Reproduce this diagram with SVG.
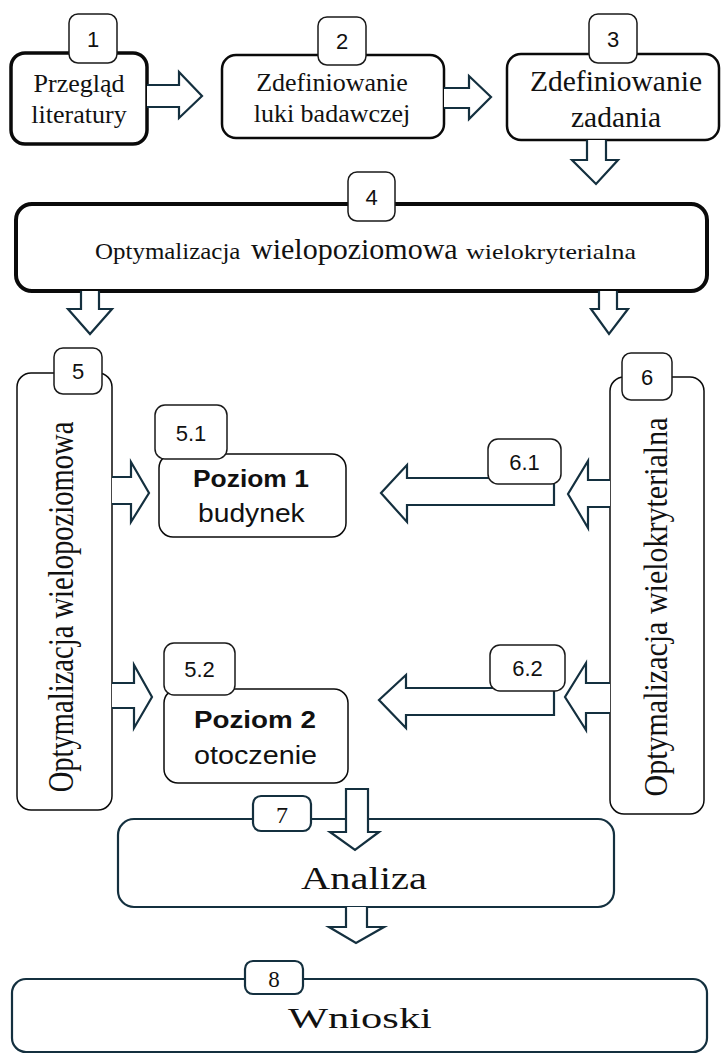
<svg xmlns="http://www.w3.org/2000/svg" width="721" height="1055" viewBox="0 0 721 1055">
<style>
.bk{fill:#fff;stroke:#0a0a0a}
.thin{stroke-width:1.5}
.badge{fill:#fff;stroke:#1a1a1a;stroke-width:1.5}
.nbadge{fill:#fff;stroke:#14303f;stroke-width:2.2}
.nav{fill:#fff;stroke:#14303f;stroke-width:2.2}
.arr{fill:#fff;stroke:#14303f;stroke-width:2.2;stroke-linejoin:miter}
.serif{font-family:"Liberation Serif","Times New Roman",serif;fill:#111}
.sans{font-family:"Liberation Sans",Arial,sans-serif;fill:#111}
.mid{text-anchor:middle}
.bn{font-size:22px}
</style>
<rect x="0" y="0" width="721" height="1055" fill="#fff"/>

<g id="node1">
  <rect class="bk" x="11" y="53" width="136" height="91" rx="14" stroke-width="3.5"/>
  <text class="serif mid" x="79" y="92" font-size="26">Przegląd</text>
  <text class="serif mid" x="79" y="123" font-size="26">literatury</text>
  <rect class="badge" x="69" y="14" width="48" height="49" rx="9"/>
  <text class="sans mid bn" x="93" y="47">1</text>
</g>
<g id="node2">
  <rect class="bk" x="222" y="55" width="222" height="83" rx="14" stroke-width="2.5"/>
  <text class="serif mid" x="332" y="91" font-size="26">Zdefiniowanie</text>
  <text class="serif mid" x="332" y="122" font-size="26">luki badawczej</text>
  <rect class="badge" x="318" y="17" width="48" height="48" rx="9"/>
  <text class="sans mid bn" x="342" y="49">2</text>
</g>
<g id="node3">
  <rect class="bk" x="507" y="54" width="212" height="86" rx="14" stroke-width="2.5"/>
  <text class="serif mid" x="616" y="91" font-size="29.5">Zdefiniowanie</text>
  <text class="serif mid" x="616" y="127" font-size="29.5">zadania</text>
  <rect class="badge" x="589" y="14" width="48" height="49" rx="9"/>
  <text class="sans mid bn" x="613" y="47">3</text>
</g>
<g id="node4">
  <rect class="bk" x="16" y="204" width="691" height="87" rx="16" stroke-width="4"/>
  <text class="serif" transform="translate(95,259) scale(1.085,1)" font-size="23">Optymalizacja</text>
  <text class="serif" transform="translate(251,259)" font-size="30">wielopoziomowa</text>
  <text class="serif" transform="translate(466,259) scale(1.18,1)" font-size="22">wielokryterialna</text>
  <rect class="badge" x="348" y="172" width="47" height="49" rx="9"/>
  <text class="sans mid bn" x="371.5" y="205">4</text>
</g>
<g id="node5">
  <rect class="bk thin" x="17" y="373" width="95" height="437" rx="14"/>
  <text class="serif mid" transform="translate(73,607) rotate(-90) scale(1,1.28)" font-size="28.6">Optymalizacja wielopoziomowa</text>
  <rect class="badge" x="54" y="348" width="48" height="46" rx="9"/>
  <text class="sans mid bn" x="78" y="379">5</text>
</g>
<g id="node6">
  <rect class="bk thin" x="610" y="377" width="94" height="437" rx="14"/>
  <text class="serif mid" transform="translate(667,607) rotate(-90) scale(1,1.12)" font-size="30">Optymalizacja wielokryterialna</text>
  <rect class="badge" x="622" y="353" width="50" height="47" rx="9"/>
  <text class="sans mid bn" x="647" y="385">6</text>
</g>
<g id="node5-1">
  <rect class="bk thin" x="159" y="454" width="187" height="83" rx="14"/>
  <text class="sans" transform="translate(193,487) scale(1.1,1)" font-size="24" font-weight="bold">Poziom 1</text>
  <text class="sans" transform="translate(198,522) scale(1.13,1)" font-size="25">budynek</text>
  <rect class="badge" x="155" y="405" width="72" height="54" rx="10"/>
  <text class="sans mid bn" x="191" y="441">5.1</text>
</g>
<g id="node5-2">
  <rect class="bk thin" x="164" y="689" width="184" height="94" rx="14"/>
  <text class="sans" transform="translate(194,728) scale(1.157,1)" font-size="24" font-weight="bold">Poziom 2</text>
  <text class="sans" transform="translate(194,764) scale(1.15,1)" font-size="25">otoczenie</text>
  <rect class="badge" x="164" y="643" width="71" height="52" rx="10"/>
  <text class="sans mid bn" x="199.5" y="677">5.2</text>
</g>
<g id="node7">
  <rect class="nav" x="118" y="819" width="496" height="88" rx="16"/>
  <text class="serif" transform="translate(301,889) scale(1.266,1)" font-size="32">Analiza</text>
  <rect class="nbadge" x="253" y="796" width="58" height="35" rx="8"/>
  <text class="serif mid" x="282" y="823" font-size="24">7</text>
</g>
<g id="node8">
  <rect class="nav" x="12" y="979" width="695" height="73" rx="14"/>
  <text class="serif" transform="translate(288,1028) scale(1.465,1)" font-size="29">Wnioski</text>
  <rect class="nbadge" x="245" y="961" width="58" height="33" rx="8"/>
  <text class="serif mid" x="274" y="987" font-size="23">8</text>
</g>

<g id="connectors">
  <path class="arr" d="M147,85 H179 V72 L202,96 L179,118 V107 H147"/>
  <path class="arr" d="M444,88 H469 V76 L491,97 L469,119 V108 H444"/>
  <path class="arr" d="M587,140 V160 H572 L596,184 L618,160 H606 V140"/>
  <path class="arr" d="M81,291 V309 H68 L90,334 L112,309 H99 V291"/>
  <path class="arr" d="M599,291 V309 H591 L609,334 L628,309 H617 V291"/>
  <path class="arr" d="M112,477 H131 V462 L149,493 L131,522 V504 H112"/>
  <path class="arr" d="M112,683 H134 V665 L152,697 L134,728 V708 H112"/>
  <path class="arr" d="M610,480 H588 V461 L568,494 L588,528 V507 H610"/>
  <path class="arr" d="M610,683 H586 V663 L565,697 L586,730 V713 H610"/>
  <path class="arr" d="M554,478 H407 V465 L381,493 L407,522 V505 H554 Z"/>
  <path class="arr" d="M554,688 H406 V675 L379,700 L406,728 V715 H554 Z"/>
  <path class="arr" d="M346,789 H368 V832 H379 L355,850 L330,832 H346 Z"/>
  <path class="arr" d="M346,907 V927 H329 L356,943 L384,927 H367 V907"/>
</g>

<g id="node6-1">
  <rect class="badge" x="488" y="439" width="73" height="45" rx="10"/>
  <text class="sans mid bn" x="524.5" y="469.5">6.1</text>
</g>
<g id="node6-2">
  <rect class="badge" x="490" y="645" width="75" height="46" rx="10"/>
  <text class="sans mid bn" x="527.5" y="676">6.2</text>
</g>
</svg>
